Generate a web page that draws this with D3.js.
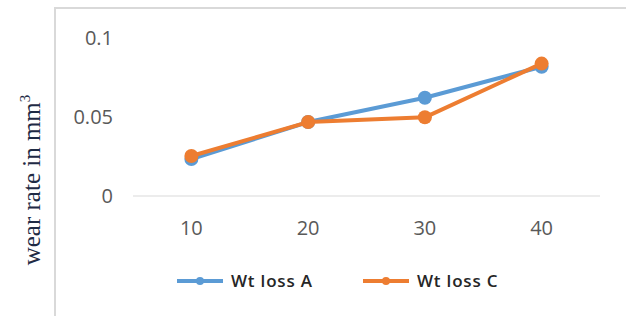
<!DOCTYPE html>
<html>
<head>
  <meta charset="UTF-8">
  <style>
    body { margin: 0; background: #fff; }
    svg { display: block; }
  </style>
</head>
<body>
  <svg></svg>
  <script src="https://d3js.org/d3.v7.min.js"></script>
  <script>
    let width = 626, height = 316;

    // data
    var categories = ["10", "20", "30", "40"];
    var wtLossA = [0.0234, 0.0468, 0.0622, 0.0818];
    var wtLossC = [0.0253, 0.0468, 0.0498, 0.0838];
    var yTicks = [0, 0.05, 0.1];
    var seriesNames = ["Wt loss A", "Wt loss C"];
    var seriesColors = ["#5B9BD5", "#ED7D31"];

    let svg = d3.select("svg")
      .attr("width", width)
      .attr("height", height);

    // chart frame
    svg.append("rect")
      .attr("x", 55).attr("y", 8)
      .attr("width", 600).attr("height", 330)
      .attr("fill", "none")
      .attr("stroke", "#d9d9d9")
      .attr("stroke-width", 2);

    let x = d3.scaleBand().domain(categories).range([133, 600]);
    let y = d3.scaleLinear().domain([0, 0.1]).range([196, 38]);

    // zero line
    svg.append("line")
      .attr("x1", 133).attr("x2", 600)
      .attr("y1", y(0)).attr("y2", y(0))
      .attr("stroke", "#d9d9d9").attr("stroke-width", 1);

    // y tick labels
    svg.selectAll(".ytick")
      .data(yTicks)
      .enter()
      .append("text")
      .attr("x", 113)
      .attr("y", d => y(d))
      .attr("dy", "0.35em")
      .attr("text-anchor", "end")
      .attr("font-family", "Open Sans, sans-serif")
      .attr("font-size", 20)
      .attr("fill", "#595959")
      .text(d => d === 0 ? "0" : d3.format("~g")(d));

    // x tick labels
    svg.selectAll(".xtick")
      .data(categories)
      .enter()
      .append("text")
      .attr("x", d => x(d) + x.bandwidth() / 2)
      .attr("y", 228)
      .attr("dy", "0.35em")
      .attr("text-anchor", "middle")
      .attr("font-family", "Open Sans, sans-serif")
      .attr("font-size", 20)
      .attr("fill", "#595959")
      .text(d => d);

    // y axis title
    let ylab = svg.append("text")
      .attr("transform", "translate(40,180) rotate(-90)")
      .attr("text-anchor", "middle")
      .attr("font-family", "Liberation Serif, serif")
      .attr("font-size", 25)
      .attr("fill", "#1f2b45");
    ylab.append("tspan").text("wear rate in mm");
    ylab.append("tspan").attr("dy", -10).attr("font-size", 15).text("3");

    let line = d3.line()
      .x((d, i) => x(categories[i]) + x.bandwidth() / 2)
      .y(d => y(d));

    [wtLossA, wtLossC].forEach(function (vals, k) {
      svg.append("path")
        .datum(vals)
        .attr("d", line)
        .attr("fill", "none")
        .attr("stroke", seriesColors[k])
        .attr("stroke-width", 4)
        .attr("stroke-linejoin", "round");
      svg.selectAll(".dot" + k)
        .data(vals)
        .enter()
        .append("circle")
        .attr("cx", (d, i) => x(categories[i]) + x.bandwidth() / 2)
        .attr("cy", d => y(d))
        .attr("r", 7)
        .attr("fill", seriesColors[k]);
    });

    // legend
    let legendX = [177, 363];
    seriesNames.forEach(function (name, k) {
      let g = svg.append("g").attr("transform", "translate(" + legendX[k] + ",281)");
      g.append("line")
        .attr("x1", 0).attr("x2", 46)
        .attr("stroke", seriesColors[k]).attr("stroke-width", 4);
      g.append("circle").attr("cx", 23).attr("r", 4).attr("fill", seriesColors[k]);
      g.append("text")
        .attr("x", 54)
        .attr("dy", "0.35em")
        .attr("font-family", "Open Sans, sans-serif")
        .attr("font-size", 17)
        .attr("font-weight", 600)
        .attr("letter-spacing", 0.8)
        .attr("fill", "#262626")
        .text(name);
    });
  </script>
</body>
</html>
